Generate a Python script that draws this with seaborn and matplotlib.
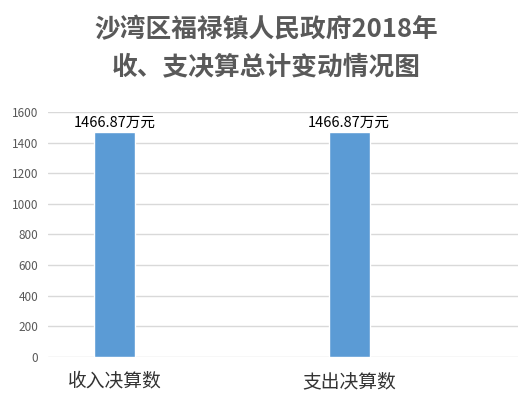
import matplotlib
matplotlib.use("Agg")
import matplotlib.pyplot as plt
import seaborn as sns
import pandas as pd

categories = ["收入决算数", "支出决算数"]
values = [1466.87, 1466.87]
value_labels = ["1466.87万元", "1466.87万元"]
yticks = [0, 200, 400, 600, 800, 1000, 1200, 1400, 1600]

sns.set_theme(style="white")
plt.rcParams['font.family'] = ['Noto Sans CJK SC', 'DejaVu Sans']

df = pd.DataFrame({'category': categories, 'value': values})

fig = plt.figure(figsize=(5.32, 4.15), dpi=100)
ax = fig.add_axes([0.090, 0.140, 0.884, 0.590])

sns.barplot(data=df, x='category', y='value', color='#5B9BD5', width=0.175,
            saturation=1, ax=ax, zorder=3)

for i, (v, lab) in enumerate(zip(values, value_labels)):
    ax.text(i, v + 20, lab, ha='center', va='bottom', fontsize=10.5, color='black')

ax.set_ylim(0, 1600)
ax.set_yticks(yticks)
ax.set_xlim(-0.286, 1.722)
ax.yaxis.grid(True, color='#D9D9D9', linewidth=1, zorder=0)
ax.set_axisbelow(True)
for s in ax.spines.values():
    s.set_visible(False)
ax.tick_params(axis='y', labelsize=8.5, labelcolor='#595959', length=0, pad=7)
ax.tick_params(axis='x', labelsize=13.5, labelcolor='#333333', length=0, pad=10)
ax.set_xlabel('')
ax.set_ylabel('')

fig.text(0.5, 0.884, "沙湾区福禄镇人民政府2018年\n收、支决算总计变动情况图", ha='center', va='center',
         fontsize=18.5, fontweight='bold', color='#595959', linespacing=1.5)

fig.savefig('out.png', dpi=100)
